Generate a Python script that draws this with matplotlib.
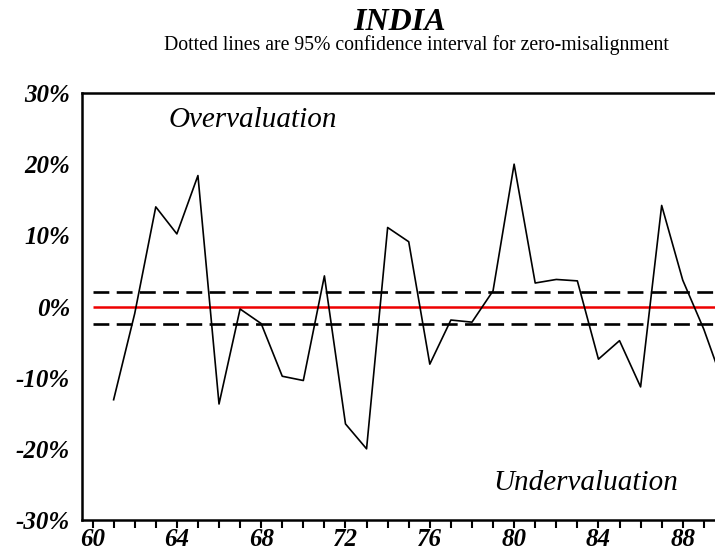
import matplotlib
matplotlib.use("Agg")
import matplotlib.pyplot as plt
import numpy as np

years = list(range(61, 91))
misalignment = [-13.1, -1.0, 14.0, 10.2, 18.4, -13.7, -0.35, -2.4, -9.8, -10.4,
                4.3, -16.5, -20.0, 11.1, 9.1, -8.1, -1.9, -2.2, 2.2, 20.0,
                3.3, 3.8, 3.6, -7.4, -4.8, -11.3, 14.2, 3.7, -3.2, -11.5]
upper_ci = 2.1
lower_ci = -2.4
xtick_years = [60, 64, 68, 72, 76, 80, 84, 88]
ytick_vals = [-30, -20, -10, 0, 10, 20, 30]
ytick_labels = ["-30%", "-20%", "-10%", "0%", "10%", "20%", "30%"]

serif = ["Liberation Serif", "DejaVu Serif"]
plt.rcParams['font.family'] = serif

fig = plt.figure(figsize=(7.15, 5.53), dpi=100)
ax = fig.add_axes([82/715, 1-520/553, 1-82/715, (520-93)/553])

xmin, xmax = 59.5, 89.53
ax.plot(years, misalignment, color="black", lw=1.2, clip_on=True, zorder=3)
ax.hlines(0, 60, 91, color="#ee0000", lw=1.8, zorder=2)
ax.hlines([upper_ci, lower_ci], 60, 91, color="black", lw=1.9,
          linestyles=[(0, (6.0, 2.8))], zorder=2)

ax.set_xlim(xmin, xmax)
ax.set_ylim(-30, 30)
ax.set_xticks(xtick_years)
ax.set_xticklabels([str(y) for y in xtick_years], fontsize=18, fontweight="bold", style="italic")
ax.set_xticks(range(60, 90), minor=True)
ax.tick_params(axis="x", which="both", direction="out", length=6, width=1.5, pad=0)
ax.set_yticks(ytick_vals)
ax.set_yticklabels(ytick_labels, fontsize=18, fontweight="bold", style="italic")
ax.tick_params(axis="y", length=0, pad=8.5)

for s in ["left", "top", "bottom"]:
    ax.spines[s].set_linewidth(1.8)
ax.spines["right"].set_visible(False)

ax.text(0.270, 0.937, "Overvaluation", transform=ax.transAxes, fontsize=21,
        style="italic", ha="center", va="center")
ax.text(0.9415, 0.0867, "Undervaluation", transform=ax.transAxes, fontsize=21,
        style="italic", ha="right", va="center")

fig.text(400/715, 1-23/553, "INDIA", fontsize=23, fontweight="bold", style="italic",
         ha="center", va="center")
fig.text(416/715, 1-45/553, "Dotted lines are 95% confidence interval for zero-misalignment",
         fontsize=14.2, ha="center", va="center")

fig.savefig("out.png", dpi=100)
